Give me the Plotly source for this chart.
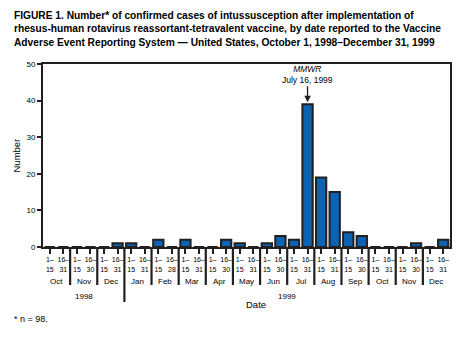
import plotly.graph_objects as go

# Half-month reporting periods, October 1998 - December 1999
months = ["Oct", "Nov", "Dec", "Jan", "Feb", "Mar", "Apr", "May",
          "Jun", "Jul", "Aug", "Sep", "Oct", "Nov", "Dec"]
month_last_day = [31, 30, 31, 31, 28, 31, 30, 31, 30, 31, 31, 30, 31, 30, 31]
years = ["1998", "1999"]
year_first_month = [0, 3]          # index into months where each year starts

# Confirmed intussusception cases per half-month period (n = 98)
cases = [0, 0, 0, 0, 0, 1, 1, 0, 2, 0, 2, 0, 0, 2, 1,
         0, 1, 3, 2, 39, 19, 15, 4, 3, 0, 0, 0, 1, 0, 2]

# MMWR report marker
mmwr_slot = 19
mmwr_label = "<i>MMWR</i><br>July 16, 1999"

title_lines = [
    "FIGURE 1. Number* of confirmed cases of intussusception after implementation of",
    "rhesus-human rotavirus reassortant-tetravalent vaccine, by date reported to the Vaccine",
    "Adverse Event Reporting System \u2014 United States, October 1, 1998\u2013December 31, 1999",
]
footnote = "* n = 98."

W, H = 462, 339
ML, MR, MT, MB = 43, 10, 64, 92
plot_h = H - MT - MB

INK = "#231f20"
BAR = "#0b63b1"
FONT = "Liberation Sans, Arial, sans-serif"

slots = list(range(len(cases)))
tick_text = []
for last in month_last_day:
    tick_text.append("1\u2013<br>15")
    tick_text.append(f"16\u2013<br>{last}")

fig = go.Figure()
fig.add_trace(go.Bar(
    x=slots, y=cases,
    marker=dict(color=BAR, line=dict(color=INK, width=2)),
    hoverinfo="skip",
))

annotations = []
shapes = []

# month names and dividers below the axis
for m, name in enumerate(months):
    annotations.append(dict(
        x=2 * m + 0.5, y=0, xref="x", yref="paper",
        text=name, showarrow=False, yanchor="middle", yshift=-34,
        font=dict(family=FONT, size=8, color="black"),
    ))
for m in range(len(months) - 1):
    boundary = 2 * m + 1.5
    is_year = (m + 1) in year_first_month[1:]
    depth = 55 if is_year else 38
    shapes.append(dict(
        type="line", xref="x", yref="paper",
        x0=boundary, x1=boundary, y0=0, y1=-depth / plot_h,
        line=dict(color=INK, width=2.2),
    ))

# year labels centred under their months
for i, yr in enumerate(years):
    first = year_first_month[i]
    last = year_first_month[i + 1] - 1 if i + 1 < len(years) else len(months) - 1
    center = (2 * first + 2 * last + 1) / 2
    annotations.append(dict(
        x=center, y=0, xref="x", yref="paper",
        text=yr, showarrow=False, yanchor="middle", yshift=-49,
        font=dict(family=FONT, size=8, color="black"),
    ))

# axis titles
annotations.append(dict(
    x=0.523, y=0, xref="paper", yref="paper", text="Date",
    showarrow=False, yanchor="middle", yshift=-57,
    font=dict(family=FONT, size=9.5, color="black"),
))
annotations.append(dict(
    x=0, y=0.5, xref="paper", yref="paper", text="Number",
    showarrow=False, textangle=-90, xanchor="center", xshift=-27,
    font=dict(family=FONT, size=9.5, color="black"),
))

# MMWR arrow
annotations.append(dict(
    x=mmwr_slot, y=cases[mmwr_slot], xref="x", yref="y",
    text=mmwr_label, showarrow=True, arrowhead=2, arrowsize=1,
    arrowwidth=1.3, arrowcolor=INK, ax=0, ay=-30, standoff=2,
    font=dict(family=FONT, size=8.5, color="black"),
))

# title and footnote
for k, line in enumerate(title_lines):
    annotations.append(dict(
        x=0, y=1, xref="paper", yref="paper", text=f"<b>{line}</b>",
        showarrow=False, xanchor="left", yanchor="middle",
        xshift=-31, yshift=MT - (15 + 13.5 * k),
        font=dict(family=FONT, size=10.2, color="black"),
    ))
annotations.append(dict(
    x=0, y=0, xref="paper", yref="paper", text=footnote,
    showarrow=False, xanchor="left", yanchor="middle",
    xshift=-31, yshift=-72,
    font=dict(family=FONT, size=9, color="black"),
))

fig.update_layout(
    width=W, height=H,
    margin=dict(l=ML, r=MR, t=MT, b=MB),
    paper_bgcolor="white", plot_bgcolor="white",
    bargap=0.24, showlegend=False,
    annotations=annotations, shapes=shapes,
    xaxis=dict(
        range=[-0.5, len(cases) - 0.5], tickmode="array",
        tickvals=slots, ticktext=tick_text, tickangle=0,
        ticks="outside", ticklen=5, tickwidth=2, tickcolor=INK,
        showline=True, linecolor=INK, linewidth=2, mirror=True,
        showgrid=False, zeroline=False,
        tickfont=dict(family=FONT, size=7, color="black"),
    ),
    yaxis=dict(
        range=[0, 50], tickvals=[0, 10, 20, 30, 40, 50],
        ticks="outside", ticklen=4, tickwidth=2, tickcolor=INK,
        showline=True, linecolor=INK, linewidth=2, mirror=True,
        showgrid=False, zeroline=False,
        tickfont=dict(family=FONT, size=8, color="black"),
    ),
)

fig.write_html("out.html")
